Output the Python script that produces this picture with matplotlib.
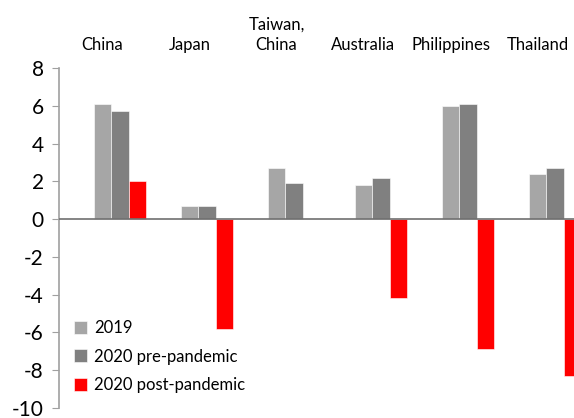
import numpy as np
import matplotlib.pyplot as plt

categories = ['China', 'Japan', 'Taiwan,\nChina', 'Australia', 'Philippines', 'Thailand']
series_names = ['2019', '2020 pre-pandemic', '2020 post-pandemic']
vals_2019 = [6.1, 0.7, 2.7, 1.8, 6.0, 2.4]
vals_pre = [5.7, 0.7, 1.9, 2.2, 6.1, 2.7]
vals_post = [2.0, -5.8, 0.0, -4.2, -6.9, -8.3]
colors = ['#a6a6a6', '#808080', '#ff0000']

plt.rcParams['font.family'] = ['Lato', 'DejaVu Sans']
plt.rcParams['axes.unicode_minus'] = False

fig = plt.figure(figsize=(5.74, 4.18), dpi=100)
ax = fig.add_axes([0.1028, 0.0239, 0.9094, 0.8134])

x = np.arange(len(categories))
w = 0.2
all_vals = [vals_2019, vals_pre, vals_post]
for i in range(3):
    ax.bar(x + i * w, all_vals[i], width=w, color=colors[i], label=series_names[i],
           edgecolor='white', linewidth=0.4, zorder=2)

ax.axhline(0, color='#707070', linewidth=1.2, zorder=3)

ax.set_xlim(-0.5, 5.5)
ax.set_ylim(-10, 8)
ax.set_yticks(np.arange(-10, 9, 2))
ax.tick_params(axis='y', labelsize=15, length=5, color='#a0a0a0', direction='out', pad=6)

ax.xaxis.tick_top()
ax.set_xticks(x)
ax.set_xticklabels(categories, fontsize=12, linespacing=1.3)
ax.tick_params(axis='x', length=0, pad=11)

for s in ['top', 'right', 'bottom']:
    ax.spines[s].set_visible(False)
ax.spines['left'].set_color('#a0a0a0')
ax.spines['left'].set_linewidth(1.2)

leg = ax.legend(loc='lower left', bbox_to_anchor=(0.0, 0.0), frameon=False, fontsize=12,
                handlelength=0.8, handleheight=0.8, handletextpad=0.4, labelspacing=0.75)

plt.savefig('out.png', dpi=100)
